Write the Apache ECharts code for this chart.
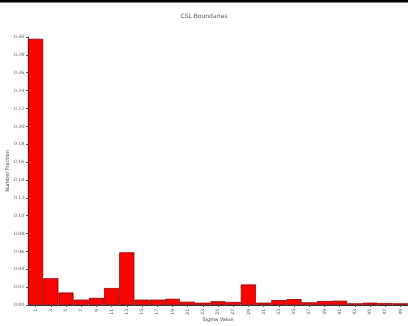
<!DOCTYPE html>
<html>
<head>
<meta charset="utf-8">
<script src="https://cdn.jsdelivr.net/npm/echarts@6/dist/echarts.min.js"></script>
<style>
  html, body { margin: 0; padding: 0; background: #fff; }
  #chart { width: 408px; height: 326px; }
</style>
</head>
<body>
<div id="chart"></div>
<script>
// Sigma values of coincident-site-lattice boundaries (odd values only)
const sigmaValues = ['1','3','5','7','9','11','13','15','17','19','21','23','25',
                     '27','29','31','33','35','37','39','41','43','45','47','49'];
// Number fraction of boundaries for each sigma value
const numberFraction = [0.298, 0.030, 0.014, 0.006, 0.008, 0.019, 0.059, 0.006, 0.006,
                        0.007, 0.0037, 0.0026, 0.0042, 0.0034, 0.023, 0.0026, 0.0055,
                        0.0066, 0.003, 0.0045, 0.0048, 0.0019, 0.0026, 0.0022, 0.0019];
const yMin = 0, yMax = 0.30, yStep = 0.02;

const chart = echarts.init(document.getElementById('chart'), null, { renderer: 'canvas' });
chart.setOption({
  animation: false,
  backgroundColor: '#ffffff',
  title: {
    text: 'CSL Boundaries',
    left: 'center',
    top: 8,
    textStyle: { fontSize: 6, fontWeight: 'normal', color: '#555', fontFamily: 'DejaVu Sans' }
  },
  graphic: [{
    type: 'rect',
    shape: { x: 0, y: 0, width: 408, height: 2.5 },
    style: { fill: '#000' }
  }],
  grid: { left: 28, right: 0, top: 37, bottom: 21, containLabel: false, outerBoundsMode: 'none' },
  xAxis: {
    type: 'category',
    data: sigmaValues,
    name: 'Sigma Value',
    nameLocation: 'middle',
    nameGap: 12,
    nameMoveOverlap: false,
    nameTextStyle: { fontSize: 5, color: '#444', fontFamily: 'DejaVu Sans' },
    axisLine: { lineStyle: { color: '#333', width: 1 } },
    axisTick: { show: true, alignWithLabel: true, length: 2, lineStyle: { color: '#555' } },
    axisLabel: { rotate: 90, fontSize: 4.5, color: '#555', margin: 4, fontFamily: 'DejaVu Sans' }
  },
  yAxis: {
    type: 'value',
    min: yMin,
    max: yMax,
    interval: yStep,
    name: 'Number Fraction',
    nameLocation: 'middle',
    nameGap: 18,
    nameMoveOverlap: false,
    nameTextStyle: { fontSize: 5, color: '#444', fontFamily: 'DejaVu Sans' },
    axisLine: { show: true, lineStyle: { color: '#333', width: 1 } },
    axisTick: { show: true, length: 2, lineStyle: { color: '#555' } },
    axisLabel: {
      fontSize: 4.5, color: '#555', margin: 4, fontFamily: 'DejaVu Sans',
      formatter: v => v.toFixed(2)
    },
    splitLine: { show: false }
  },
  series: [{
    type: 'bar',
    data: numberFraction,
    barCategoryGap: '0%',
    itemStyle: { color: '#ff0000', borderColor: '#8b0000', borderWidth: 0.8 }
  }]
});
</script>
</body>
</html>
